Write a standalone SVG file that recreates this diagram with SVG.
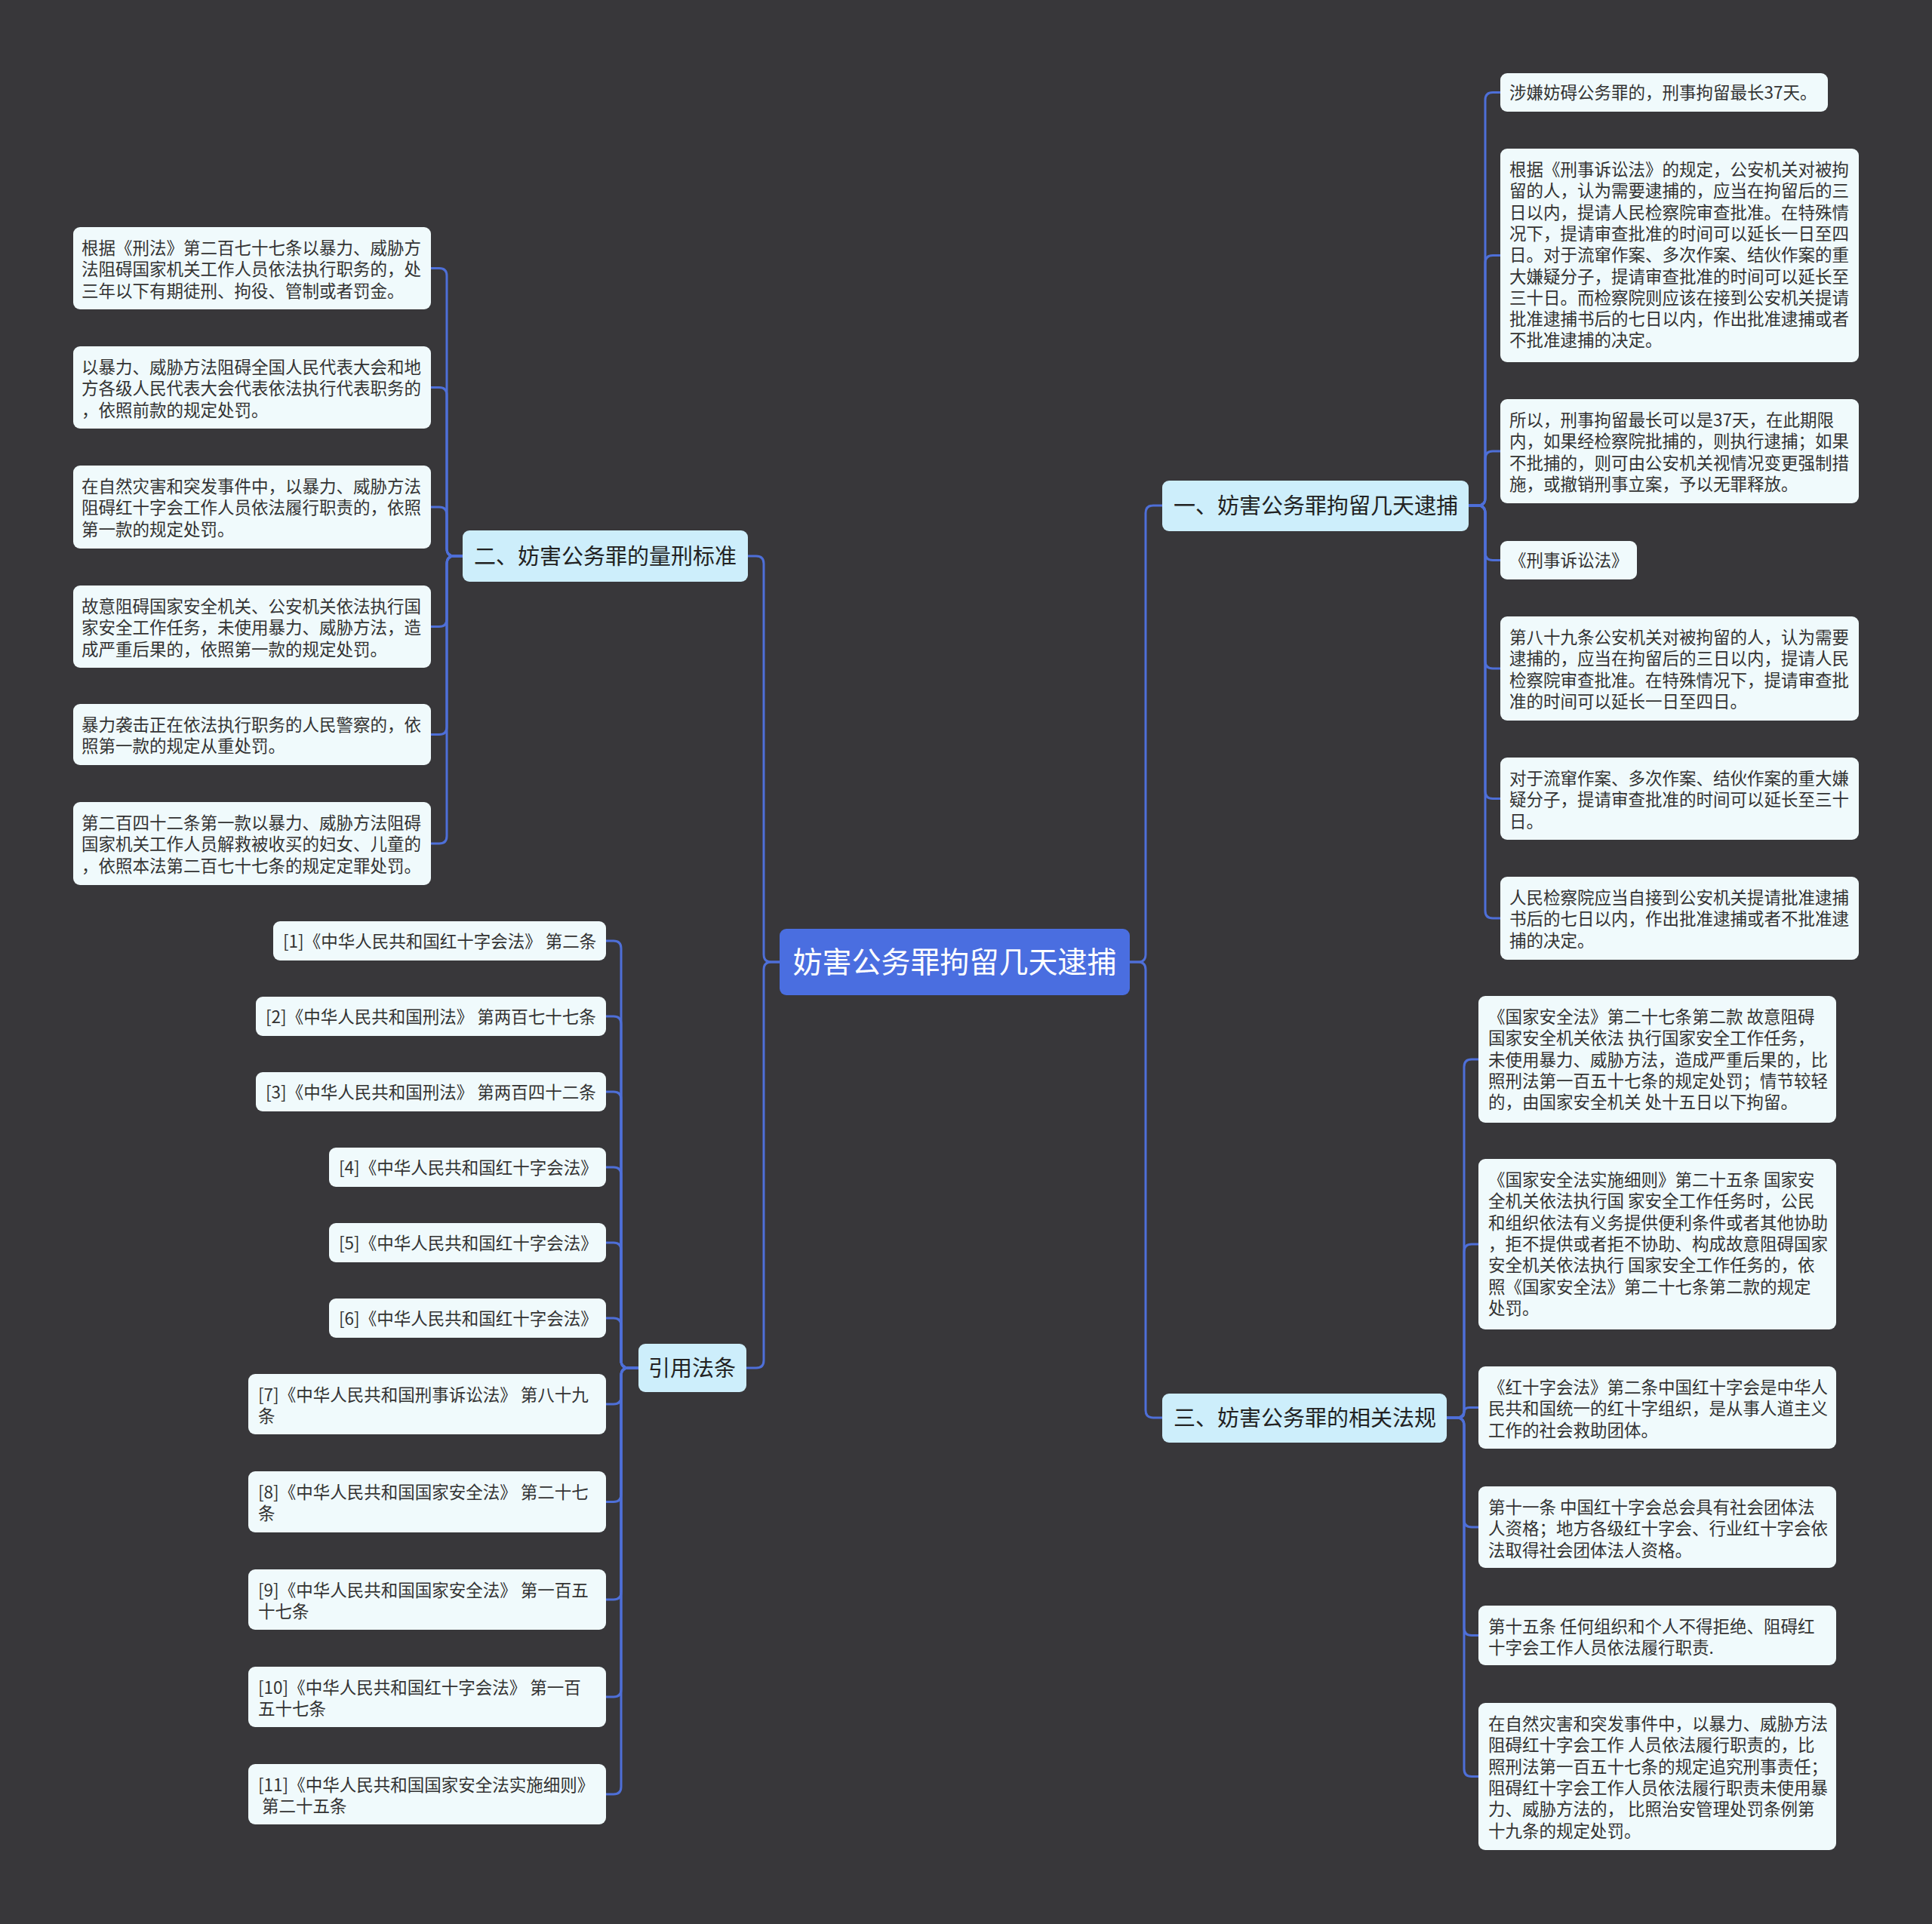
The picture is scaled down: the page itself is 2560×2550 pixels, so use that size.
<svg xmlns="http://www.w3.org/2000/svg" width="2560" height="2550" viewBox="0 0 2560 2550">
<style>
  .bg { fill: #38373a; }
  .leaf { fill: #f0fafc; }
  .br { fill: #cdeefb; }
  .root { fill: #4a6ee0; }
  .lt { font-family: 'Noto Sans CJK SC', 'Liberation Sans', sans-serif; font-size: 22.5px; fill: #333333; }
  .bt { font-family: 'Noto Sans CJK SC', 'Liberation Sans', sans-serif; font-size: 29px; fill: #222222; }
  .rt { font-family: 'Noto Sans CJK SC', 'Liberation Sans', sans-serif; font-size: 39px; fill: #ffffff; }
  .conn path { fill: none; stroke: #4e6fd8; stroke-width: 3; }
</style>
<rect class="bg" x="0" y="0" width="2560" height="2550"/>

<g class="conn" id="connectors">
  <path d="M1033 1275 H1022 Q1012 1275 1012 1265 V747 Q1012 737 1002 737 H991"/>
  <path d="M1033 1275 H1022 Q1012 1275 1012 1285 V1803 Q1012 1813 1002 1813 H989"/>
  <path d="M1497 1275 H1508 Q1518 1275 1518 1265 V680 Q1518 670 1528 670 H1540"/>
  <path d="M1497 1275 H1508 Q1518 1275 1518 1285 V1869 Q1518 1879 1528 1879 H1540"/>

  <path d="M613 737 H602 Q592 737 592 727 V365.5 Q592 355.5 582 355.5 H571"/>
  <path d="M613 737 H602 Q592 737 592 727 V523.5 Q592 513.5 582 513.5 H571"/>
  <path d="M613 737 H602 Q592 737 592 727 V682 Q592 672 582 672 H571"/>
  <path d="M613 737 H602 Q592 737 592 747 V820.5 Q592 830.5 582 830.5 H571"/>
  <path d="M613 737 H602 Q592 737 592 747 V963.5 Q592 973.5 582 973.5 H571"/>
  <path d="M613 737 H602 Q592 737 592 747 V1108 Q592 1118 582 1118 H571"/>

  <path d="M1946 670 H1958 Q1968 670 1968 660 V132.5 Q1968 122.5 1978 122.5 H1988"/>
  <path d="M1946 670 H1958 Q1968 670 1968 660 V348.5 Q1968 338.5 1978 338.5 H1988"/>
  <path d="M1946 670 H1958 Q1968 670 1968 660 V608 Q1968 598 1978 598 H1988"/>
  <path d="M1946 670 H1958 Q1968 670 1968 680 V732.5 Q1968 742.5 1978 742.5 H1988"/>
  <path d="M1946 670 H1958 Q1968 670 1968 680 V876 Q1968 886 1978 886 H1988"/>
  <path d="M1946 670 H1958 Q1968 670 1968 680 V1048.5 Q1968 1058.5 1978 1058.5 H1988"/>
  <path d="M1946 670 H1958 Q1968 670 1968 680 V1207 Q1968 1217 1978 1217 H1988"/>

  <path d="M1917 1879 H1930 Q1940 1879 1940 1869 V1414 Q1940 1404 1950 1404 H1959"/>
  <path d="M1917 1879 H1930 Q1940 1879 1940 1869 V1659 Q1940 1649 1950 1649 H1959"/>
  <path d="M1917 1879 H1933.25 Q1940 1879 1940 1872.25 Q1940 1865.5 1946.75 1865.5 H1959"/>
  <path d="M1917 1879 H1930 Q1940 1879 1940 1889 V2014 Q1940 2024 1950 2024 H1959"/>
  <path d="M1917 1879 H1930 Q1940 1879 1940 1889 V2157.5 Q1940 2167.5 1950 2167.5 H1959"/>
  <path d="M1917 1879 H1930 Q1940 1879 1940 1889 V2344.5 Q1940 2354.5 1950 2354.5 H1959"/>

  <path d="M846 1813 H833 Q823 1813 823 1803 V1257 Q823 1247 813 1247 H803"/>
  <path d="M846 1813 H833 Q823 1813 823 1803 V1357 Q823 1347 813 1347 H803"/>
  <path d="M846 1813 H833 Q823 1813 823 1803 V1457 Q823 1447 813 1447 H803"/>
  <path d="M846 1813 H833 Q823 1813 823 1803 V1557 Q823 1547 813 1547 H803"/>
  <path d="M846 1813 H833 Q823 1813 823 1803 V1657 Q823 1647 813 1647 H803"/>
  <path d="M846 1813 H833 Q823 1813 823 1803 V1757 Q823 1747 813 1747 H803"/>
  <path d="M846 1813 H833 Q823 1813 823 1823 V1851 Q823 1861 813 1861 H803"/>
  <path d="M846 1813 H833 Q823 1813 823 1823 V1980.5 Q823 1990.5 813 1990.5 H803"/>
  <path d="M846 1813 H833 Q823 1813 823 1823 V2110 Q823 2120 813 2120 H803"/>
  <path d="M846 1813 H833 Q823 1813 823 1823 V2239 Q823 2249 813 2249 H803"/>
  <path d="M846 1813 H833 Q823 1813 823 1823 V2368 Q823 2378 813 2378 H803"/>
</g>

<g id="root">
  <rect class="root" x="1033" y="1231" width="464" height="88" rx="9"/>
  <text class="rt" x="1265" y="1289" text-anchor="middle">妨害公务罪拘留几天逮捕</text>
</g>

<g id="b1">
  <rect class="br" x="1540" y="637" width="406" height="67" rx="9"/>
  <text class="bt" x="1555" y="681">一、妨害公务罪拘留几天逮捕</text>
</g>
<g id="b2">
  <rect class="br" x="613" y="703" width="378" height="68" rx="9"/>
  <text class="bt" x="628" y="748">二、妨害公务罪的量刑标准</text>
</g>
<g id="b3">
  <rect class="br" x="1540" y="1847" width="377" height="65" rx="9"/>
  <text class="bt" x="1555" y="1890">三、妨害公务罪的相关法规</text>
</g>
<g id="b4">
  <rect class="br" x="846" y="1781" width="143" height="64" rx="9"/>
  <text class="bt" x="859" y="1824">引用法条</text>
</g>

<g id="l1">
  <rect class="leaf" x="97" y="301" width="474" height="109" rx="9"/>
  <text class="lt"><tspan x="108" y="337">根据《刑法》第二百七十七条以暴力、威胁方</tspan><tspan x="108" y="365.3">法阻碍国家机关工作人员依法执行职务的，处</tspan><tspan x="108" y="393.6">三年以下有期徒刑、拘役、管制或者罚金。</tspan></text>
</g>
<g id="l2">
  <rect class="leaf" x="97" y="459" width="474" height="109" rx="9"/>
  <text class="lt"><tspan x="108" y="495">以暴力、威胁方法阻碍全国人民代表大会和地</tspan><tspan x="108" y="523.3">方各级人民代表大会代表依法执行代表职务的</tspan><tspan x="108" y="551.6">，依照前款的规定处罚。</tspan></text>
</g>
<g id="l3">
  <rect class="leaf" x="97" y="617" width="474" height="110" rx="9"/>
  <text class="lt"><tspan x="108" y="653">在自然灾害和突发事件中，以暴力、威胁方法</tspan><tspan x="108" y="681.3">阻碍红十字会工作人员依法履行职责的，依照</tspan><tspan x="108" y="709.6">第一款的规定处罚。</tspan></text>
</g>
<g id="l4">
  <rect class="leaf" x="97" y="776" width="474" height="109" rx="9"/>
  <text class="lt"><tspan x="108" y="812">故意阻碍国家安全机关、公安机关依法执行国</tspan><tspan x="108" y="840.3">家安全工作任务，未使用暴力、威胁方法，造</tspan><tspan x="108" y="868.6">成严重后果的，依照第一款的规定处罚。</tspan></text>
</g>
<g id="l5">
  <rect class="leaf" x="97" y="933" width="474" height="81" rx="9"/>
  <text class="lt"><tspan x="108" y="969">暴力袭击正在依法执行职务的人民警察的，依</tspan><tspan x="108" y="997.3">照第一款的规定从重处罚。</tspan></text>
</g>
<g id="l6">
  <rect class="leaf" x="97" y="1063" width="474" height="110" rx="9"/>
  <text class="lt"><tspan x="108" y="1099">第二百四十二条第一款以暴力、威胁方法阻碍</tspan><tspan x="108" y="1127.3">国家机关工作人员解救被收买的妇女、儿童的</tspan><tspan x="108" y="1155.6">，依照本法第二百七十七条的规定定罪处罚。</tspan></text>
</g>

<g id="r1">
  <rect class="leaf" x="1988" y="97" width="434" height="51" rx="9"/>
  <text class="lt" x="2000" y="131">涉嫌妨碍公务罪的，刑事拘留最长37天。</text>
</g>
<g id="r2">
  <rect class="leaf" x="1988" y="197" width="475" height="283" rx="9"/>
  <text class="lt"><tspan x="2000" y="233">根据《刑事诉讼法》的规定，公安机关对被拘</tspan><tspan x="2000" y="261.3">留的人，认为需要逮捕的，应当在拘留后的三</tspan><tspan x="2000" y="289.6">日以内，提请人民检察院审查批准。在特殊情</tspan><tspan x="2000" y="317.9">况下，提请审查批准的时间可以延长一日至四</tspan><tspan x="2000" y="346.2">日。对于流窜作案、多次作案、结伙作案的重</tspan><tspan x="2000" y="374.5">大嫌疑分子，提请审查批准的时间可以延长至</tspan><tspan x="2000" y="402.8">三十日。而检察院则应该在接到公安机关提请</tspan><tspan x="2000" y="431.1">批准逮捕书后的七日以内，作出批准逮捕或者</tspan><tspan x="2000" y="459.4">不批准逮捕的决定。</tspan></text>
</g>
<g id="r3">
  <rect class="leaf" x="1988" y="529" width="475" height="138" rx="9"/>
  <text class="lt"><tspan x="2000" y="565">所以，刑事拘留最长可以是37天，在此期限</tspan><tspan x="2000" y="593.3">内，如果经检察院批捕的，则执行逮捕；如果</tspan><tspan x="2000" y="621.6">不批捕的，则可由公安机关视情况变更强制措</tspan><tspan x="2000" y="649.9">施，或撤销刑事立案，予以无罪释放。</tspan></text>
</g>
<g id="r4">
  <rect class="leaf" x="1988" y="717" width="181" height="51" rx="9"/>
  <text class="lt" x="2000" y="751">《刑事诉讼法》</text>
</g>
<g id="r5">
  <rect class="leaf" x="1988" y="817" width="475" height="138" rx="9"/>
  <text class="lt"><tspan x="2000" y="853">第八十九条公安机关对被拘留的人，认为需要</tspan><tspan x="2000" y="881.3">逮捕的，应当在拘留后的三日以内，提请人民</tspan><tspan x="2000" y="909.6">检察院审查批准。在特殊情况下，提请审查批</tspan><tspan x="2000" y="937.9">准的时间可以延长一日至四日。</tspan></text>
</g>
<g id="r6">
  <rect class="leaf" x="1988" y="1004" width="475" height="109" rx="9"/>
  <text class="lt"><tspan x="2000" y="1040">对于流窜作案、多次作案、结伙作案的重大嫌</tspan><tspan x="2000" y="1068.3">疑分子，提请审查批准的时间可以延长至三十</tspan><tspan x="2000" y="1096.6">日。</tspan></text>
</g>
<g id="r7">
  <rect class="leaf" x="1988" y="1162" width="475" height="110" rx="9"/>
  <text class="lt"><tspan x="2000" y="1198">人民检察院应当自接到公安机关提请批准逮捕</tspan><tspan x="2000" y="1226.3">书后的七日以内，作出批准逮捕或者不批准逮</tspan><tspan x="2000" y="1254.6">捕的决定。</tspan></text>
</g>

<g id="t1">
  <rect class="leaf" x="1959" y="1320" width="474" height="168" rx="9"/>
  <text class="lt"><tspan x="1972" y="1356">《国家安全法》第二十七条第二款 故意阻碍</tspan><tspan x="1972" y="1384.3">国家安全机关依法 执行国家安全工作任务，</tspan><tspan x="1972" y="1412.6">未使用暴力、威胁方法，造成严重后果的，比</tspan><tspan x="1972" y="1440.9">照刑法第一百五十七条的规定处罚；情节较轻</tspan><tspan x="1972" y="1469.2">的，由国家安全机关 处十五日以下拘留。</tspan></text>
</g>
<g id="t2">
  <rect class="leaf" x="1959" y="1536" width="474" height="226" rx="9"/>
  <text class="lt"><tspan x="1972" y="1572">《国家安全法实施细则》第二十五条 国家安</tspan><tspan x="1972" y="1600.3">全机关依法执行国 家安全工作任务时，公民</tspan><tspan x="1972" y="1628.6">和组织依法有义务提供便利条件或者其他协助</tspan><tspan x="1972" y="1656.9">，拒不提供或者拒不协助、构成故意阻碍国家</tspan><tspan x="1972" y="1685.2">安全机关依法执行 国家安全工作任务的，依</tspan><tspan x="1972" y="1713.5">照《国家安全法》第二十七条第二款的规定</tspan><tspan x="1972" y="1741.8">处罚。</tspan></text>
</g>
<g id="t3">
  <rect class="leaf" x="1959" y="1811" width="474" height="109" rx="9"/>
  <text class="lt"><tspan x="1972" y="1847">《红十字会法》第二条中国红十字会是中华人</tspan><tspan x="1972" y="1875.3">民共和国统一的红十字组织，是从事人道主义</tspan><tspan x="1972" y="1903.6">工作的社会救助团体。</tspan></text>
</g>
<g id="t4">
  <rect class="leaf" x="1959" y="1970" width="474" height="108" rx="9"/>
  <text class="lt"><tspan x="1972" y="2006">第十一条 中国红十字会总会具有社会团体法</tspan><tspan x="1972" y="2034.3">人资格；地方各级红十字会、行业红十字会依</tspan><tspan x="1972" y="2062.6">法取得社会团体法人资格。</tspan></text>
</g>
<g id="t5">
  <rect class="leaf" x="1959" y="2128" width="474" height="79" rx="9"/>
  <text class="lt"><tspan x="1972" y="2164">第十五条 任何组织和个人不得拒绝、阻碍红</tspan><tspan x="1972" y="2192.3">十字会工作人员依法履行职责.</tspan></text>
</g>
<g id="t6">
  <rect class="leaf" x="1959" y="2257" width="474" height="195" rx="9"/>
  <text class="lt"><tspan x="1972" y="2293">在自然灾害和突发事件中，以暴力、威胁方法</tspan><tspan x="1972" y="2321.3">阻碍红十字会工作 人员依法履行职责的，比</tspan><tspan x="1972" y="2349.6">照刑法第一百五十七条的规定追究刑事责任；</tspan><tspan x="1972" y="2377.9">阻碍红十字会工作人员依法履行职责未使用暴</tspan><tspan x="1972" y="2406.2">力、威胁方法的， 比照治安管理处罚条例第</tspan><tspan x="1972" y="2434.5">十九条的规定处罚。</tspan></text>
</g>

<g id="c1">
  <rect class="leaf" x="362" y="1221" width="441" height="52" rx="9"/>
  <text class="lt" x="375" y="1256">[1]《中华人民共和国红十字会法》 第二条</text>
</g>
<g id="c2">
  <rect class="leaf" x="339" y="1321" width="464" height="52" rx="9"/>
  <text class="lt" x="352" y="1356">[2]《中华人民共和国刑法》 第两百七十七条</text>
</g>
<g id="c3">
  <rect class="leaf" x="339" y="1421" width="464" height="52" rx="9"/>
  <text class="lt" x="352" y="1456">[3]《中华人民共和国刑法》 第两百四十二条</text>
</g>
<g id="c4">
  <rect class="leaf" x="436" y="1521" width="367" height="52" rx="9"/>
  <text class="lt" x="449" y="1556">[4]《中华人民共和国红十字会法》</text>
</g>
<g id="c5">
  <rect class="leaf" x="436" y="1621" width="367" height="52" rx="9"/>
  <text class="lt" x="449" y="1656">[5]《中华人民共和国红十字会法》</text>
</g>
<g id="c6">
  <rect class="leaf" x="436" y="1721" width="367" height="52" rx="9"/>
  <text class="lt" x="449" y="1756">[6]《中华人民共和国红十字会法》</text>
</g>
<g id="c7">
  <rect class="leaf" x="329" y="1821" width="474" height="80" rx="9"/>
  <text class="lt"><tspan x="342" y="1857">[7]《中华人民共和国刑事诉讼法》 第八十九</tspan><tspan x="342" y="1885.3">条</tspan></text>
</g>
<g id="c8">
  <rect class="leaf" x="329" y="1950" width="474" height="81" rx="9"/>
  <text class="lt"><tspan x="342" y="1986">[8]《中华人民共和国国家安全法》 第二十七</tspan><tspan x="342" y="2014.3">条</tspan></text>
</g>
<g id="c9">
  <rect class="leaf" x="329" y="2080" width="474" height="80" rx="9"/>
  <text class="lt"><tspan x="342" y="2116">[9]《中华人民共和国国家安全法》 第一百五</tspan><tspan x="342" y="2144.3">十七条</tspan></text>
</g>
<g id="c10">
  <rect class="leaf" x="329" y="2209" width="474" height="80" rx="9"/>
  <text class="lt"><tspan x="342" y="2245">[10]《中华人民共和国红十字会法》 第一百</tspan><tspan x="342" y="2273.3">五十七条</tspan></text>
</g>
<g id="c11">
  <rect class="leaf" x="329" y="2338" width="474" height="80" rx="9"/>
  <text class="lt"><tspan x="342" y="2374">[11]《中华人民共和国国家安全法实施细则》</tspan><tspan x="342" y="2402.3" xml:space="preserve"> 第二十五条</tspan></text>
</g>
</svg>
